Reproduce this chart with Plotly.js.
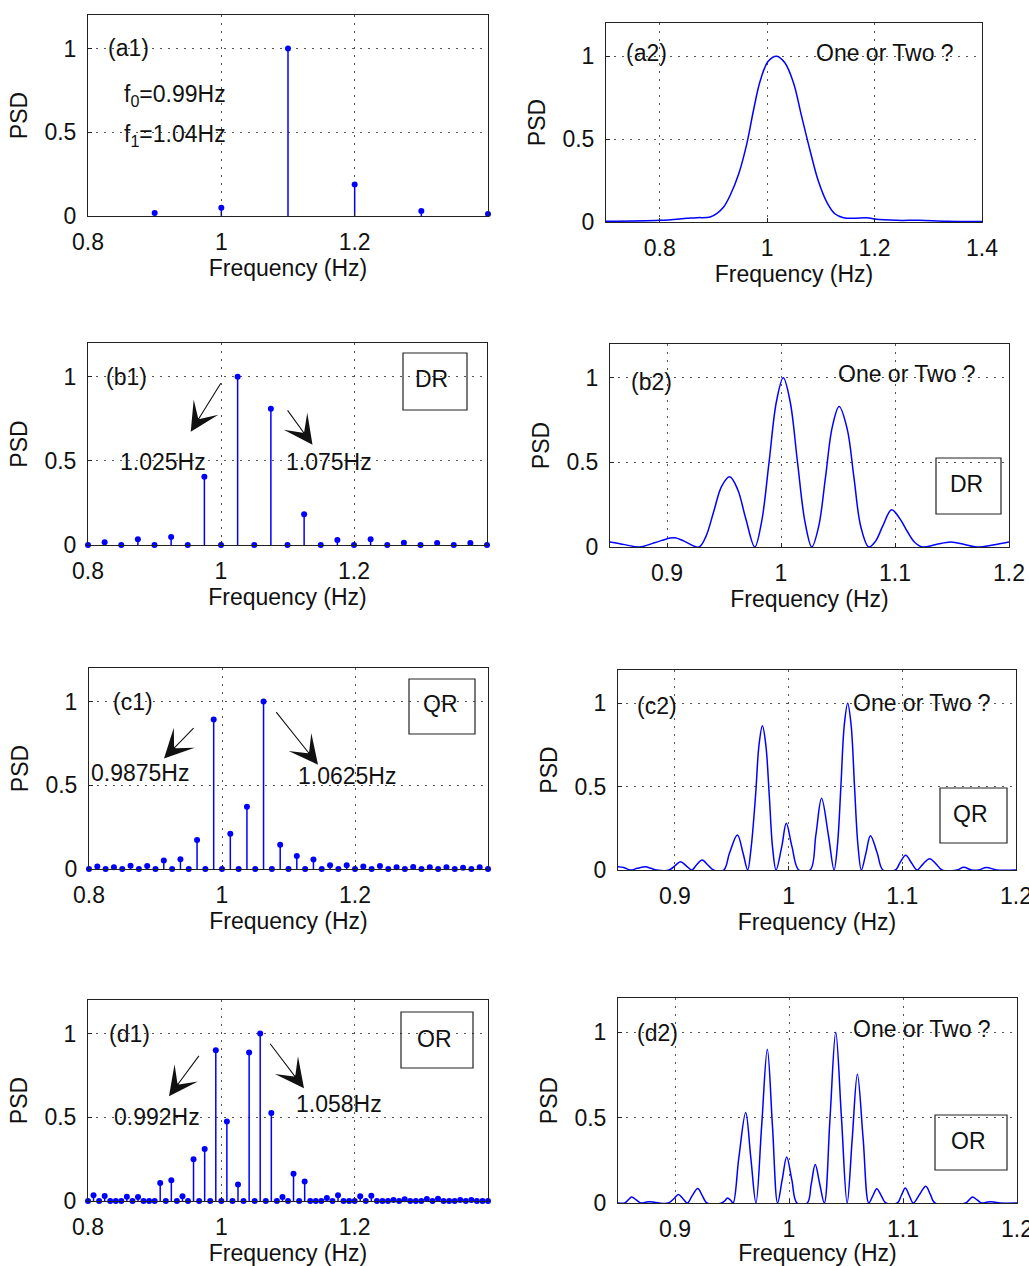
<!DOCTYPE html>
<html><head><meta charset="utf-8">
<script src="https://cdn.plot.ly/plotly-3.0.1.min.js"></script>
<style>html,body{margin:0;padding:0;background:#fff}#chart{width:1029px;height:1266px}</style>
</head><body><div id="chart"></div>
<script>
// ---------- data ----------
const a1Freq = [0.9, 1.0, 1.1, 1.2, 1.3, 1.4];
const a1Psd  = [0.018, 0.05, 1.0, 0.188, 0.03, 0.012];

const a2Freq = [0.70, 0.80, 0.851, 0.869, 0.894, 0.906, 0.919, 0.931, 0.947, 0.962, 0.975, 0.987, 1.002, 1.018, 1.033, 1.049, 1.064, 1.080, 1.095, 1.111, 1.126, 1.142, 1.160, 1.185, 1.200, 1.241, 1.284, 1.334, 1.400];
const a2Psd  = [0.004, 0.01, 0.022, 0.026, 0.03, 0.05, 0.09, 0.16, 0.29, 0.47, 0.68, 0.85, 0.97, 1.0, 0.96, 0.84, 0.64, 0.43, 0.25, 0.12, 0.05, 0.026, 0.022, 0.026, 0.018, 0.01, 0.01, 0.004, 0.003];

const b1Freq = [0.8, 0.825, 0.85, 0.875, 0.9, 0.925, 0.95, 0.975, 1.0, 1.025, 1.05, 1.075, 1.1, 1.125, 1.15, 1.175, 1.2, 1.225, 1.25, 1.275, 1.3, 1.325, 1.35, 1.375, 1.4];
const b1Psd  = [0, 0.016, 0, 0.034, 0, 0.048, 0, 0.406, 0, 1.0, 0, 0.81, 0, 0.182, 0, 0.03, 0, 0.034, 0, 0.014, 0, 0.012, 0, 0.012, 0];

const b2Freq = [0.850, 0.863, 0.876, 0.889, 0.902, 0.907, 0.915, 0.928, 0.934, 0.941, 0.948, 0.955, 0.962, 0.969, 0.977, 0.983, 0.9895, 0.996, 1.002, 1.008, 1.0145, 1.021, 1.027, 1.033, 1.039, 1.045, 1.051, 1.058, 1.064, 1.070, 1.077, 1.083, 1.089, 1.097, 1.104, 1.111, 1.117, 1.124, 1.136, 1.149, 1.161, 1.172, 1.186, 1.200];
const b2Psd  = [0.030, 0.014, 0.0, 0.025, 0.052, 0.055, 0.035, 0.0, 0.06, 0.21, 0.36, 0.415, 0.34, 0.17, 0.0, 0.15, 0.5, 0.86, 1.0, 0.86, 0.5, 0.15, 0.0, 0.12, 0.41, 0.71, 0.83, 0.70, 0.41, 0.12, 0.0, 0.035, 0.12, 0.22, 0.17, 0.09, 0.03, 0.0, 0.015, 0.03, 0.015, 0.0, 0.012, 0.03];

const c1Freq = [0.8, 0.8125, 0.825, 0.8375, 0.85, 0.8625, 0.875, 0.8875, 0.9, 0.9125, 0.925, 0.9375, 0.95, 0.9625, 0.975, 0.9875, 1.0, 1.0125, 1.025, 1.0375, 1.05, 1.0625, 1.075, 1.0875, 1.1, 1.1125, 1.125, 1.1375, 1.15, 1.1625, 1.175, 1.1875, 1.2, 1.2125, 1.225, 1.2375, 1.25, 1.2625, 1.275, 1.2875, 1.3, 1.3125, 1.325, 1.3375, 1.35, 1.3625, 1.375, 1.3875, 1.4];
const c1Psd  = [0, 0.015, 0, 0.01, 0, 0.02, 0, 0.018, 0, 0.05, 0, 0.058, 0, 0.173, 0, 0.892, 0, 0.211, 0, 0.372, 0, 1.0, 0, 0.145, 0, 0.078, 0, 0.056, 0, 0.022, 0, 0.022, 0, 0.015, 0, 0.018, 0, 0.01, 0, 0.012, 0, 0.01, 0, 0.01, 0, 0.008, 0, 0.01, 0];

const c2Freq = [0.850, 0.855, 0.861, 0.867, 0.874, 0.879, 0.884, 0.895, 0.900, 0.905, 0.910, 0.915, 0.919, 0.924, 0.929, 0.934, 0.943, 0.948, 0.955, 0.960, 0.964, 0.967, 0.971, 0.974, 0.977, 0.980, 0.983, 0.986, 0.989, 0.994, 0.998, 1.003, 1.009, 1.019, 1.024, 1.029, 1.035, 1.040, 1.043, 1.046, 1.049, 1.052, 1.055, 1.058, 1.061, 1.064, 1.068, 1.072, 1.078, 1.083, 1.094, 1.098, 1.103, 1.108, 1.113, 1.118, 1.124, 1.130, 1.135, 1.148, 1.154, 1.161, 1.167, 1.174, 1.183, 1.200];
const c2Psd  = [0.02, 0.015, 0, 0.01, 0.02, 0.01, 0, 0, 0.025, 0.05, 0.025, 0, 0.03, 0.06, 0.03, 0, 0, 0.1, 0.21, 0.1, 0, 0.13, 0.45, 0.75, 0.865, 0.75, 0.45, 0.13, 0, 0.14, 0.28, 0.14, 0, 0, 0.21, 0.43, 0.21, 0, 0.15, 0.5, 0.87, 1.0, 0.87, 0.5, 0.15, 0, 0.1, 0.205, 0.1, 0, 0, 0.044, 0.088, 0.044, 0, 0.034, 0.068, 0.034, 0, 0, 0.016, 0, 0, 0.015, 0, 0];

const d1Freq = [0.8, 0.8083, 0.8167, 0.825, 0.8333, 0.8417, 0.85, 0.8583, 0.8667, 0.875, 0.8833, 0.8917,
                0.9, 0.9083, 0.9167, 0.925, 0.9333, 0.9417, 0.95, 0.9583, 0.9667, 0.975, 0.9833, 0.9917,
                1.0, 1.0083, 1.0167, 1.025, 1.0333, 1.0417, 1.05, 1.0583, 1.0667, 1.075, 1.0833, 1.0917,
                1.1, 1.1083, 1.1167, 1.125, 1.1333, 1.1417, 1.15, 1.1583, 1.1667, 1.175, 1.1833, 1.1917,
                1.2, 1.2083, 1.2167, 1.225, 1.2333, 1.2417, 1.25, 1.2583, 1.2667, 1.275, 1.2833, 1.2917,
                1.3, 1.3083, 1.3167, 1.325, 1.3333, 1.3417, 1.35, 1.3583, 1.3667, 1.375, 1.3833, 1.3917, 1.4];
const d1Psd  = [0, 0.034, 0, 0.03, 0, 0, 0, 0.026, 0, 0.024, 0, 0,
                0, 0.108, 0, 0.124, 0, 0.028, 0, 0.25, 0, 0.31, 0, 0.90,
                0, 0.474, 0, 0.098, 0, 0.886, 0, 1.0, 0, 0.526, 0, 0.024,
                0, 0.163, 0, 0.116, 0, 0, 0, 0.018, 0, 0.034, 0, 0,
                0, 0.028, 0, 0.032, 0, 0, 0, 0.006, 0, 0.01, 0, 0,
                0, 0.012, 0, 0.014, 0, 0, 0, 0.006, 0, 0.006, 0, 0, 0];

const d2Freq = [0.850, 0.856, 0.859, 0.862, 0.866, 0.870, 0.874, 0.878, 0.882, 0.886, 0.894, 0.899, 0.903, 0.907, 0.911, 0.915, 0.920, 0.924, 0.928, 0.941, 0.944, 0.946, 0.949, 0.951, 0.956, 0.962, 0.9665, 0.971, 0.976, 0.981, 0.9855, 0.990, 0.994, 0.998, 1.0025, 1.007, 1.016, 1.0195, 1.023, 1.027, 1.031, 1.036, 1.041, 1.046, 1.051, 1.0555, 1.060, 1.065, 1.070, 1.0735, 1.077, 1.081, 1.085, 1.095, 1.0985, 1.102, 1.1055, 1.109, 1.1145, 1.120, 1.124, 1.128, 1.155, 1.158, 1.161, 1.165, 1.169, 1.173, 1.177, 1.181, 1.185, 1.200];
const d2Psd  = [0, 0, 0.018, 0.035, 0.018, 0, 0.004, 0.008, 0.004, 0, 0, 0.025, 0.05, 0.025, 0, 0.042, 0.085, 0.042, 0, 0, 0.015, 0.03, 0.015, 0, 0.265, 0.53, 0.265, 0, 0.45, 0.90, 0.45, 0, 0.135, 0.27, 0.135, 0, 0, 0.11, 0.225, 0.11, 0, 0.5, 1.0, 0.5, 0, 0.38, 0.753, 0.38, 0, 0.042, 0.084, 0.042, 0, 0, 0.044, 0.088, 0.044, 0, 0.05, 0.098, 0.05, 0, 0, 0.018, 0.035, 0.018, 0, 0.004, 0.008, 0.004, 0, 0];

const yTicks = [0, 0.5, 1];
const yTickText = ['0', '0.5', '1'];
const xTicksWide = [0.8, 1, 1.2];
const xTicksA2 = [0.8, 1, 1.2, 1.4];
const xTicksNarrow = [0.9, 1, 1.1, 1.2];
const xTitle = 'Frequency (Hz)';
const yTitle = 'PSD';

// ---------- styling ----------
const W = 1029, H = 1266;
const FONT = 'Liberation Sans, Arial, sans-serif';
const FS = 23;
const BLUE = '#0000ff';
const AX = '#222222';
const px = v => v / W;
const py = v => 1 - v / H;

function stem(xa, ya, fx, fy) {
  return {
    type: 'scatter', mode: 'markers', x: fx, y: fy, xaxis: xa, yaxis: ya,
    cliponaxis: false, hoverinfo: 'skip',
    marker: {color: BLUE, size: 6},
    error_y: {type: 'data', symmetric: false, array: fy.map(() => 0), arrayminus: fy,
              width: 0, thickness: 1.5, color: BLUE}
  };
}
function curve(xa, ya, fx, fy) {
  return {type: 'scatter', mode: 'lines', x: fx, y: fy, xaxis: xa, yaxis: ya, hoverinfo: 'skip',
          line: {color: BLUE, width: 1.5, shape: 'spline', smoothing: 1}};
}
const axCommon = {
  showline: true, mirror: true, linecolor: AX, linewidth: 1,
  ticks: 'inside', ticklen: 4, tickcolor: AX, tickwidth: 1,
  showgrid: true, gridcolor: '#555', gridwidth: 1, griddash: '1.5px,6.5px',
  zeroline: false, fixedrange: true, ticklabeloverflow: 'allow',
  tickfont: {family: FONT, size: FS, color: '#111'}
};
function xAxis(l, r, anchor, range, tv) {
  return Object.assign({}, axCommon, {
    domain: [px(l), px(r)], anchor: anchor, range: range, tickvals: tv,
    ticklabelstandoff: 5,
    title: {text: xTitle, font: {family: FONT, size: FS, color: '#111'}, standoff: 5}
  });
}
function yAxis(t, b, anchor) {
  return Object.assign({}, axCommon, {
    domain: [py(b), py(t)], anchor: anchor, range: [0, 1.2], tickvals: yTicks, ticktext: yTickText,
    ticklabelstandoff: 6,
    title: {text: yTitle, font: {family: FONT, size: FS, color: '#111'}, standoff: 10}
  });
}

const data = [
  stem('x', 'y', a1Freq, a1Psd),
  curve('x2', 'y2', a2Freq, a2Psd),
  stem('x3', 'y3', b1Freq, b1Psd),
  curve('x4', 'y4', b2Freq, b2Psd),
  stem('x5', 'y5', c1Freq, c1Psd),
  curve('x6', 'y6', c2Freq, c2Psd),
  stem('x7', 'y7', d1Freq, d1Psd),
  curve('x8', 'y8', d2Freq, d2Psd)
];

const TF = {family: FONT, size: FS, color: '#111'};
function txt(xr, yr, x, y, text, xanchor) {
  return {xref: xr, yref: yr, x: x, y: y, text: text, showarrow: false, font: TF,
          xanchor: xanchor || 'center', yanchor: 'middle'};
}
function arrow(xr, yr, x, y, ax, ay) {
  return {xref: xr, yref: yr, x: x, y: y, ax: ax, ay: ay, text: '', showarrow: true,
          arrowhead: 3, arrowsize: 4.4, arrowwidth: 1.1, arrowcolor: '#111', standoff: 0};
}
function boxText(cx, cy, text) {
  return {xref: 'paper', yref: 'paper', x: px(cx), y: py(cy), text: text, showarrow: false,
          font: TF, xanchor: 'center', yanchor: 'middle'};
}
function boxShape(l, r, t, b) {
  return {type: 'rect', xref: 'paper', yref: 'paper', x0: px(l), x1: px(r), y0: py(b), y1: py(t),
          line: {color: AX, width: 1.2}, fillcolor: 'rgba(0,0,0,0)'};
}

const annotations = [
  txt('x', 'y', 0.86, 1.0, '(a1)'),
  txt('x', 'y', 0.851, 0.72, 'f<sub>0</sub>=0.99Hz', 'left'),
  txt('x', 'y', 0.851, 0.48, 'f<sub>1</sub>=1.04Hz', 'left'),
  txt('x2', 'y2', 0.776, 1.018, '(a2)'),
  txt('x2', 'y2', 1.220, 1.018, 'One or Two ?'),
  txt('x3', 'y3', 0.858, 1.0, '(b1)'),
  arrow('x3', 'y3', 0.9545, 0.673, 31, -50),
  arrow('x3', 'y3', 1.1376, 0.595, -26, -36),
  txt('x3', 'y3', 0.9125, 0.494, '1.025Hz'),
  txt('x3', 'y3', 1.163, 0.494, '1.075Hz'),
  boxText(431, 379, 'DR'),
  txt('x4', 'y4', 0.886, 0.976, '(b2)'),
  txt('x4', 'y4', 1.1107, 1.024, 'One or Two ?'),
  boxText(966, 484, 'DR'),
  txt('x5', 'y5', 0.866, 1.0, '(c1)'),
  arrow('x5', 'y5', 0.9128, 0.659, 31, -32),
  arrow('x5', 'y5', 1.1444, 0.623, -43, -54),
  txt('x5', 'y5', 0.8767, 0.575, '0.9875Hz'),
  txt('x5', 'y5', 1.188, 0.557, '1.0625Hz'),
  boxText(440, 704, 'QR'),
  txt('x6', 'y6', 0.884, 0.982, '(c2)'),
  txt('x6', 'y6', 1.1175, 1.0, 'One or Two ?'),
  boxText(970, 814, 'QR'),
  txt('x7', 'y7', 0.862, 1.0, '(d1)'),
  arrow('x7', 'y7', 0.9215, 0.625, 31, -42),
  arrow('x7', 'y7', 1.124, 0.673, -35, -46),
  txt('x7', 'y7', 0.9035, 0.5, '0.992Hz'),
  txt('x7', 'y7', 1.1766, 0.577, '1.058Hz'),
  boxText(434, 1039, 'OR'),
  txt('x8', 'y8', 0.885, 0.997, '(d2)'),
  txt('x8', 'y8', 1.117, 1.02, 'One or Two ?'),
  boxText(968, 1141, 'OR')
];

const shapes = [
  boxShape(403, 467, 353, 410),
  boxShape(936, 1001, 458, 514),
  boxShape(409, 475, 679, 734),
  boxShape(940, 1007, 788, 843),
  boxShape(401, 473, 1012, 1068),
  boxShape(935, 1007, 1115, 1170)
];

const layout = {
  width: W, height: H, margin: {l: 0, r: 0, t: 0, b: 0},
  paper_bgcolor: '#ffffff', plot_bgcolor: '#ffffff', showlegend: false,
  font: {family: FONT, size: FS, color: '#111'},
  xaxis:  xAxis(88, 488, 'y',  [0.8, 1.4], xTicksWide),
  yaxis:  yAxis(15, 216, 'x'),
  xaxis2: xAxis(606, 982, 'y2', [0.7, 1.4], xTicksA2),
  yaxis2: yAxis(23, 222, 'x2'),
  xaxis3: xAxis(88, 487, 'y3', [0.8, 1.4], xTicksWide),
  yaxis3: yAxis(343, 545, 'x3'),
  xaxis4: xAxis(610, 1009, 'y4', [0.85, 1.2], xTicksNarrow),
  yaxis4: yAxis(344, 547, 'x4'),
  xaxis5: xAxis(89, 488, 'y5', [0.8, 1.4], xTicksWide),
  yaxis5: yAxis(668, 869, 'x5'),
  xaxis6: xAxis(618, 1016, 'y6', [0.85, 1.2], xTicksNarrow),
  yaxis6: yAxis(670, 870, 'x6'),
  xaxis7: xAxis(88, 488, 'y7', [0.8, 1.4], xTicksWide),
  yaxis7: yAxis(1000, 1201, 'x7'),
  xaxis8: xAxis(618, 1017, 'y8', [0.85, 1.2], xTicksNarrow),
  yaxis8: yAxis(998, 1203, 'x8'),
  annotations: annotations,
  shapes: shapes
};

Plotly.newPlot('chart', data, layout, {staticPlot: true, displayModeBar: false});
</script></body></html>
